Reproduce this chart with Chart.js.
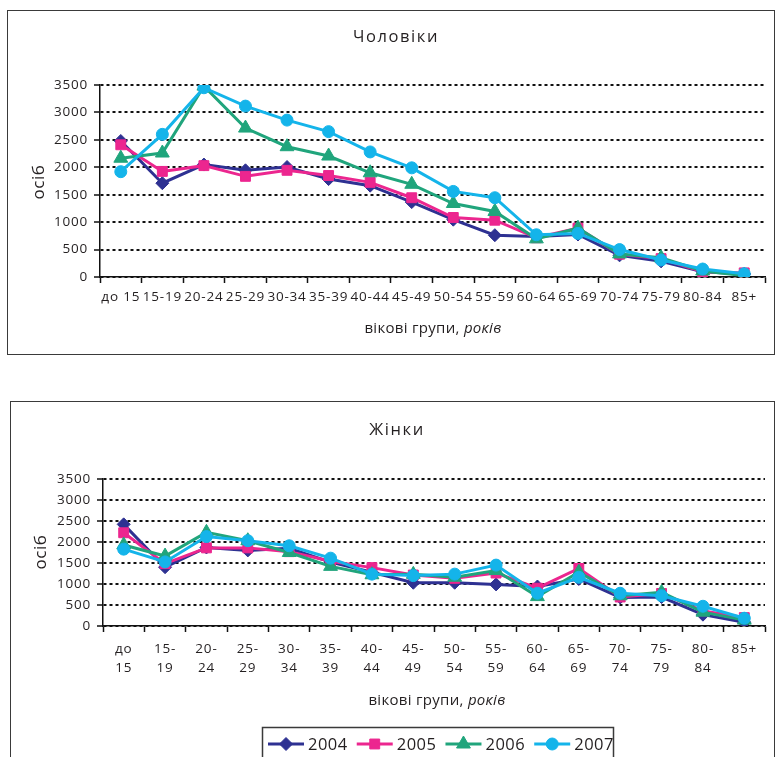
<!DOCTYPE html>
<html><head><meta charset="utf-8">
<script src="https://cdn.jsdelivr.net/npm/chart.js@4/dist/chart.umd.min.js"></script>
<style>
html,body{margin:0;padding:0;background:#fff}
body{width:775px;height:757px;overflow:hidden;position:relative;font-family:'Open Sans',sans-serif;color:#231f20}
.box{position:absolute;border:1.5px solid #3a3a3a;box-sizing:border-box}
#box1{left:7px;top:10px;width:768px;height:345px}
#box2{left:10px;top:401px;width:765px;height:380px}
canvas{position:absolute}
#c1{left:8px;top:11px}
#c2{left:11px;top:402px}
.t{position:absolute;transform:translate(-50%,-50%);white-space:nowrap}
.title{font-size:16.5px;letter-spacing:1.6px}
.xt{font-size:15px;letter-spacing:0.3px}
.yt{font-size:17px;letter-spacing:0.5px;transform:translate(-50%,-50%) rotate(-90deg)}
</style></head>
<body>
<div class="box" id="box1"></div>
<div class="box" id="box2"></div>
<canvas id="c1" width="766" height="342"></canvas>
<canvas id="c2" width="763" height="355"></canvas>
<div class="t title" style="left:396px;top:35px">Чоловіки</div>
<div class="t yt" style="left:37px;top:182px">осіб</div>
<div class="t xt" style="left:433px;top:327px">вікові групи, <i>років</i></div>
<div class="t title" style="left:397px;top:428px">Жінки</div>
<div class="t yt" style="left:39px;top:552px">осіб</div>
<div class="t xt" style="left:437px;top:699px">вікові групи, <i>років</i></div>
<script>
// ---- data ----
const years = ['2004', '2005', '2006', '2007'];
const menGroups = ['до 15','15-19','20-24','25-29','30-34','35-39','40-44','45-49','50-54','55-59','60-64','65-69','70-74','75-79','80-84','85+'];
const womenGroups = [['до','15'],['15-','19'],['20-','24'],['25-','29'],['30-','34'],['35-','39'],['40-','44'],['45-','49'],['50-','54'],['55-','59'],['60-','64'],['65-','69'],['70-','74'],['75-','79'],['80-','84'],['85+']];
const men2004 = [2480, 1710, 2050, 1945, 2005, 1785, 1665, 1365, 1045, 762, 740, 775, 395, 285, 95, 55];
const men2005 = [2410, 1925, 2030, 1835, 1945, 1850, 1725, 1445, 1085, 1035, 715, 890, 415, 335, 95, 75];
const men2006 = [2165, 2260, 3480, 2715, 2375, 2205, 1900, 1690, 1340, 1195, 695, 890, 420, 350, 110, 25];
const men2007 = [1920, 2600, 3450, 3115, 2860, 2650, 2280, 1990, 1560, 1445, 770, 795, 500, 310, 145, 60];
const women2004 = [2420, 1400, 1870, 1800, 1850, 1520, 1280, 1030, 1030, 990, 940, 1120, 680, 690, 270, 90];
const women2005 = [2220, 1485, 1860, 1860, 1770, 1540, 1390, 1215, 1135, 1260, 900, 1370, 690, 775, 360, 200];
const women2006 = [1930, 1665, 2230, 2030, 1750, 1420, 1220, 1230, 1160, 1320, 700, 1280, 720, 800, 330, 140];
const women2007 = [1830, 1525, 2130, 2030, 1910, 1615, 1235, 1200, 1235, 1450, 780, 1160, 780, 720, 470, 185];
const yTicks = [0, 500, 1000, 1500, 2000, 2500, 3000, 3500];

// ---- styles ----
const colors = ['#2E3192', '#EC268F', '#20A57C', '#14B4EA'];
const pointStyles = ['rectRot', 'rect', 'triangle', 'circle'];
const pointRadii = [6.5, 7, 8, 6];
const TXT = '#231f20';
const FONT = "'Open Sans', sans-serif";

function makeDatasets(series) {
  return series.map((d, i) => ({
    label: years[i],
    data: d,
    borderColor: colors[i],
    backgroundColor: colors[i],
    borderWidth: 3,
    pointStyle: pointStyles[i],
    pointRadius: pointRadii[i],
    pointHoverRadius: pointRadii[i],
    pointBorderWidth: 1,
    pointBackgroundColor: colors[i],
    pointBorderColor: colors[i],
    tension: 0,
    order: 4 - i
  }));
}

const spacing = {
  id: 'spacing',
  beforeUpdate(c) { c.ctx.letterSpacing = '0.8px'; },
  beforeDraw(c) { c.ctx.letterSpacing = '0.8px'; }
};

const legendPlugin = {
  id: 'customLegend',
  afterDraw(chart) {
    const ctx = chart.ctx;
    ctx.save();
    ctx.letterSpacing = '0.5px';
    const bx = 251, by = 325, bw = 351, bh = 40;
    ctx.lineWidth = 1.5;
    ctx.strokeStyle = '#3a3a3a';
    ctx.strokeRect(bx + 0.5, by + 0.5, bw, bh);
    ctx.font = "16.5px " + FONT;
    ctx.textBaseline = 'middle';
    ctx.textAlign = 'left';
    let x = 257;
    const y = 342;
    chart.data.datasets.forEach((ds, i) => {
      ctx.strokeStyle = ds.borderColor;
      ctx.lineWidth = 3;
      ctx.beginPath(); ctx.moveTo(x, y); ctx.lineTo(x + 36, y); ctx.stroke();
      ctx.fillStyle = ds.borderColor;
      ctx.lineWidth = 1;
      Chart.helpers.drawPoint(ctx, {pointStyle: ds.pointStyle, radius: ds.pointRadius, rotation: 0, borderWidth: 1}, x + 18, y);
      ctx.fillStyle = TXT;
      ctx.fillText(ds.label, x + 40, y + 1);
      x += 40 + ctx.measureText(ds.label).width + 9;
    });
    ctx.restore();
  }
};

function makeChart(canvasId, labels, series, pad, yWidth, xHeight, xPad, extraPlugins) {
  return new Chart(document.getElementById(canvasId), {
    type: 'line',
    data: { labels: labels, datasets: makeDatasets(series) },
    options: {
      responsive: false,
      animation: false,
      events: [],
      layout: { padding: pad },
      plugins: { legend: { display: false }, tooltip: { enabled: false }, title: { display: false } },
      scales: {
        x: {
          offset: true,
          grid: { offset: true, drawOnChartArea: false, drawTicks: true, tickLength: 6, tickColor: '#111', tickWidth: 1.5 },
          border: { display: true, color: '#111', width: 1.5 },
          ticks: { color: TXT, font: { family: FONT, size: 13.5, lineHeight: 1.4 }, padding: xPad, maxRotation: 0, autoSkip: false },
          afterFit(s) { s.height = xHeight; }
        },
        y: {
          min: 0, max: 3500,
          afterBuildTicks(s) { s.ticks = yTicks.map(v => ({ value: v })); },
          grid: { color: '#111', lineWidth: 2, drawTicks: true, tickLength: 6, tickColor: '#111', tickWidth: 1.5 },
          border: { display: true, color: '#111', width: 1.5, dash: [3, 3] },
          ticks: { color: TXT, font: { family: FONT, size: 13.5 }, padding: 6, callback: v => String(v) },
          afterFit(s) { s.width = yWidth; }
        }
      }
    },
    plugins: [spacing].concat(extraPlugins)
  });
}

makeChart('c1', menGroups, [men2004, men2005, men2006, men2007], { top: 74, right: 4, left: 0, bottom: 0 }, 92, 76, 5, []);
makeChart('c2', womenGroups, [women2004, women2005, women2006, women2007], { top: 77, right: 2, left: 0, bottom: 0 }, 92, 131, 8, [legendPlugin]);
</script>
</body></html>
